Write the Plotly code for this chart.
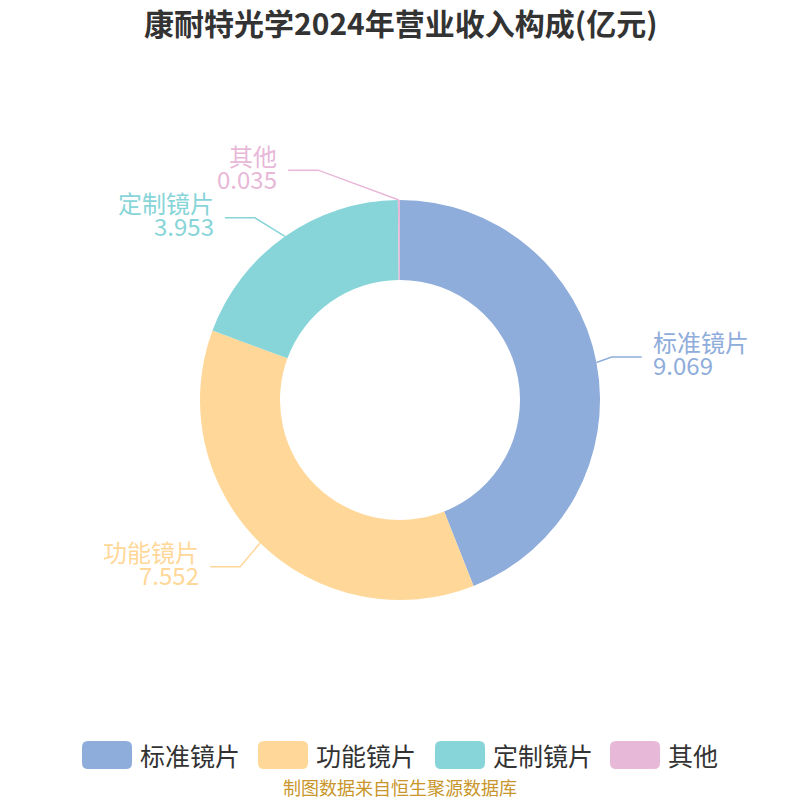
import math
import plotly.graph_objects as go

TITLE = "康耐特光学2024年营业收入构成(亿元)"
CATEGORIES = ["标准镜片", "功能镜片", "定制镜片", "其他"]
VALUES = [9.069, 7.552, 3.953, 0.035]
SOURCE = "制图数据来自恒生聚源数据库"

COLORS = ["#8FADDB", "#FFD899", "#87D5D8", "#E8B8D8"]
FONT = "Noto Sans CJK SC"

W = H = 800
CX, CY = 400, 400
R_OUT = 200
HOLE = 0.6
# label leader style per slice: (elbow radius px, elbow angle offset deg)
LEADER = [(216, -0.7), (231, -0.6), (233, -3.4), (244, -19.3)]
H_LEN = 30
GAP = 9


def px(x):
    return x / W


def py(y):
    return 1 - y / H


fig = go.Figure()
fig.add_trace(go.Pie(
    labels=CATEGORIES, values=VALUES, hole=HOLE, sort=False,
    direction="clockwise", rotation=0,
    marker=dict(colors=COLORS, line=dict(width=0)),
    textinfo="none", showlegend=False,
    domain=dict(x=[px(CX - R_OUT), px(CX + R_OUT)], y=[py(CY + R_OUT), py(CY - R_OUT)]),
))

shapes = []
annotations = []
total = sum(VALUES)
cum = 0.0
for name, v, col, (er, dang) in zip(CATEGORIES, VALUES, COLORS, LEADER):
    mid = (cum + v / 2) / total * 2 * math.pi
    cum += v
    ex, ey = CX + R_OUT * math.sin(mid), CY - R_OUT * math.cos(mid)
    a2 = mid + math.radians(dang)
    bx, by = CX + er * math.sin(a2), CY - er * math.cos(a2)
    right = math.sin(mid) >= 0
    sgn = 1 if right else -1
    hx = bx + sgn * H_LEN
    path = f"M {px(ex)},{py(ey)} L {px(bx)},{py(by)} L {px(hx)},{py(by)}"
    shapes.append(dict(type="path", path=path, xref="paper", yref="paper",
                       line=dict(color=col, width=1.5)))
    tx = hx + sgn * GAP
    anchor = "left" if right else "right"
    annotations.append(dict(x=px(tx), y=py(by - 15), xref="paper", yref="paper",
                            text=name, showarrow=False, xanchor=anchor, yanchor="middle",
                            font=dict(family=FONT, size=24, color=col)))
    annotations.append(dict(x=px(tx), y=py(by + 8), xref="paper", yref="paper",
                            text=f"{v:.3f}", showarrow=False, xanchor=anchor, yanchor="middle",
                            font=dict(family=FONT, size=24, color=col)))

# title
annotations.append(dict(x=0.5, y=py(22), xref="paper", yref="paper", text=f"<b>{TITLE}</b>",
                        showarrow=False, xanchor="center", yanchor="middle",
                        font=dict(family=FONT, size=30, color="#333333")))

# custom legend
LEG_X = [82, 258, 435, 610]
LEG_Y = 755
RW, RH, RR = 50, 28, 6
for name, col, lx in zip(CATEGORIES, COLORS, LEG_X):
    x0, x1 = lx, lx + RW
    y0, y1 = LEG_Y - RH / 2, LEG_Y + RH / 2
    p = (f"M {px(x0 + RR)},{py(y0)} L {px(x1 - RR)},{py(y0)} Q {px(x1)},{py(y0)} {px(x1)},{py(y0 + RR)} "
         f"L {px(x1)},{py(y1 - RR)} Q {px(x1)},{py(y1)} {px(x1 - RR)},{py(y1)} "
         f"L {px(x0 + RR)},{py(y1)} Q {px(x0)},{py(y1)} {px(x0)},{py(y1 - RR)} "
         f"L {px(x0)},{py(y0 + RR)} Q {px(x0)},{py(y0)} {px(x0 + RR)},{py(y0)} Z")
    shapes.append(dict(type="path", path=p, xref="paper", yref="paper",
                       fillcolor=col, line=dict(width=0)))
    annotations.append(dict(x=px(x1 + 6), y=py(LEG_Y), xref="paper", yref="paper", text=name,
                            showarrow=False, xanchor="left", yanchor="middle",
                            font=dict(family=FONT, size=25, color="#333333")))

annotations.append(dict(x=0.5, y=py(787), xref="paper", yref="paper", text=SOURCE,
                        showarrow=False, xanchor="center", yanchor="middle",
                        font=dict(family=FONT, size=18, color="#C8962A")))

fig.update_layout(
    width=W, height=H, margin=dict(l=0, r=0, t=0, b=0),
    paper_bgcolor="white", plot_bgcolor="white",
    shapes=shapes, annotations=annotations,
)
fig.write_html("out.html", config={"displayModeBar": False},
               post_script="document.body.style.margin='0';document.body.style.overflow='hidden';")
